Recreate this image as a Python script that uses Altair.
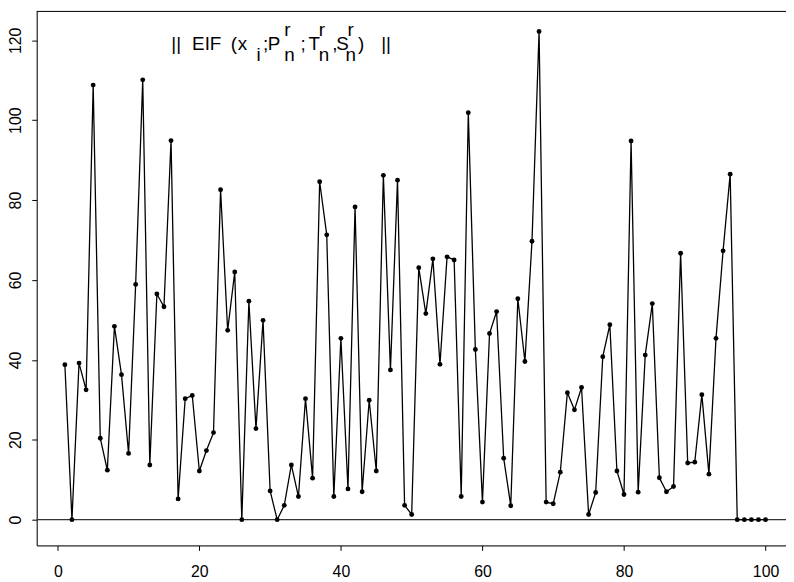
import altair as alt
import pandas as pd

# ---- data ----
index = list(range(1, 101))
eif_norm = [
    38.8, 0.0, 39.2, 32.5, 108.8, 20.4, 12.4, 48.4, 36.3, 16.6,
    58.9, 110.1, 13.7, 56.5, 53.3, 94.9, 5.2, 30.3, 31.1, 12.2,
    17.3, 21.8, 82.6, 47.4, 62.0, 0.0, 54.7, 22.8, 49.9, 7.2,
    0.0, 3.6, 13.7, 5.8, 30.3, 10.4, 84.6, 71.3, 5.8, 45.4,
    7.7, 78.3, 7.0, 29.9, 12.2, 86.2, 37.5, 85.0, 3.6, 1.3,
    63.1, 51.6, 65.3, 38.9, 65.8, 65.0, 5.8, 101.9, 42.6, 4.4,
    46.6, 52.1, 15.4, 3.5, 55.3, 39.6, 69.7, 122.2, 4.4, 4.0,
    11.9, 31.8, 27.5, 33.1, 1.3, 6.8, 40.8, 48.8, 12.2, 6.3,
    94.8, 6.9, 41.2, 54.1, 10.5, 7.0, 8.3, 66.7, 14.2, 14.4,
    31.3, 11.4, 45.4, 67.3, 86.5, 0.0, 0.0, 0.0, 0.0, 0.0,
]
x_ticks = [0, 20, 40, 60, 80, 100]
y_ticks = [0, 20, 40, 60, 80, 100, 120]

# title pieces (plotmath-like label): text, role (main/sub/sup)
title_text = ["||", "EIF", "(", "x", "i", ";", "P", "r", "n", ";", "T", "r", "n", ",", "S", "r", "n", ")", "||"]
title_role = ["main", "main", "main", "main", "sub", "main", "main", "sup", "sub", "main",
              "main", "sup", "sub", "main", "main", "sup", "sub", "main", "main"]
title_px = [136.0, 157.0, 196.0, 203.0, 222.0, 228.5, 233.5, 250.0, 250.0, 266.5,
            274.5, 285.0, 285.0, 298.5, 302.5, 314.0, 312.0, 324.5, 348.0]

FONT = "Liberation Sans"
W, H = 757, 540
X_DOM = [-2.98, 102.89]
Y_DOM = [-6.44, 127.36]

df = pd.DataFrame({"i": index, "v": eif_norm})

base_py = {"main": 39.0, "sub": 50.5, "sup": 25.0}
tdf = pd.DataFrame({
    "t": title_text,
    "px": title_px,
    "py": [base_py[r] for r in title_role],
})

xs = alt.Scale(domain=X_DOM, nice=False, zero=False)
ys = alt.Scale(domain=Y_DOM, nice=False, zero=False)

x_axis = alt.Axis(values=x_ticks, grid=False, title=None, domainColor="black",
                  domainWidth=1, tickColor="black", tickSize=5, tickWidth=1,
                  labelFont=FONT, labelFontSize=16, labelColor="black",
                  labelPadding=13, labelBaseline="top", labelAlign="center",
                  labelFlush=False, labelOverlap=False)
y_axis = alt.Axis(values=y_ticks, grid=False, title=None, domainColor="black",
                  domainWidth=1, tickColor="black", tickSize=5, tickWidth=1,
                  labelFont=FONT, labelFontSize=16, labelColor="black",
                  labelAngle=-90, labelAlign="center", labelBaseline="alphabetic",
                  labelPadding=11, labelFlush=False, labelOverlap=False)

line = alt.Chart(df).mark_line(color="black", strokeWidth=1.3).encode(
    x=alt.X("i:Q", scale=xs, axis=x_axis),
    y=alt.Y("v:Q", scale=ys, axis=y_axis),
)
pts = alt.Chart(df).mark_point(filled=True, color="black", size=24, opacity=1).encode(
    x=alt.X("i:Q", scale=xs),
    y=alt.Y("v:Q", scale=ys),
)

one = alt.Data(values=[{"z": 0}])
zero_line = alt.Chart(one).mark_rule(color="#333333", strokeWidth=1.2).encode(
    y=alt.Y("z:Q", scale=ys),
)
top_border = alt.Chart(one).mark_rule(color="black", strokeWidth=1).encode(
    y=alt.value(0.5),
)

title = alt.Chart(tdf).mark_text(font=FONT, fontSize=19, align="left",
                                 baseline="alphabetic", color="black").encode(
    x=alt.X("px:Q", scale=None, axis=None),
    y=alt.Y("py:Q", scale=None, axis=None),
    text="t:N",
)

main = alt.layer(zero_line, line, pts, top_border)
chart = alt.layer(main, title).resolve_scale(x="independent", y="independent").properties(
    width=W, height=H,
    autosize=alt.AutoSizeParams(type="none"),
    padding={"left": 29, "top": 0, "right": 0, "bottom": 34},
).configure_view(stroke=None).configure(background="white")

chart.save("out.html", embed_options={"renderer": "svg", "actions": False})
